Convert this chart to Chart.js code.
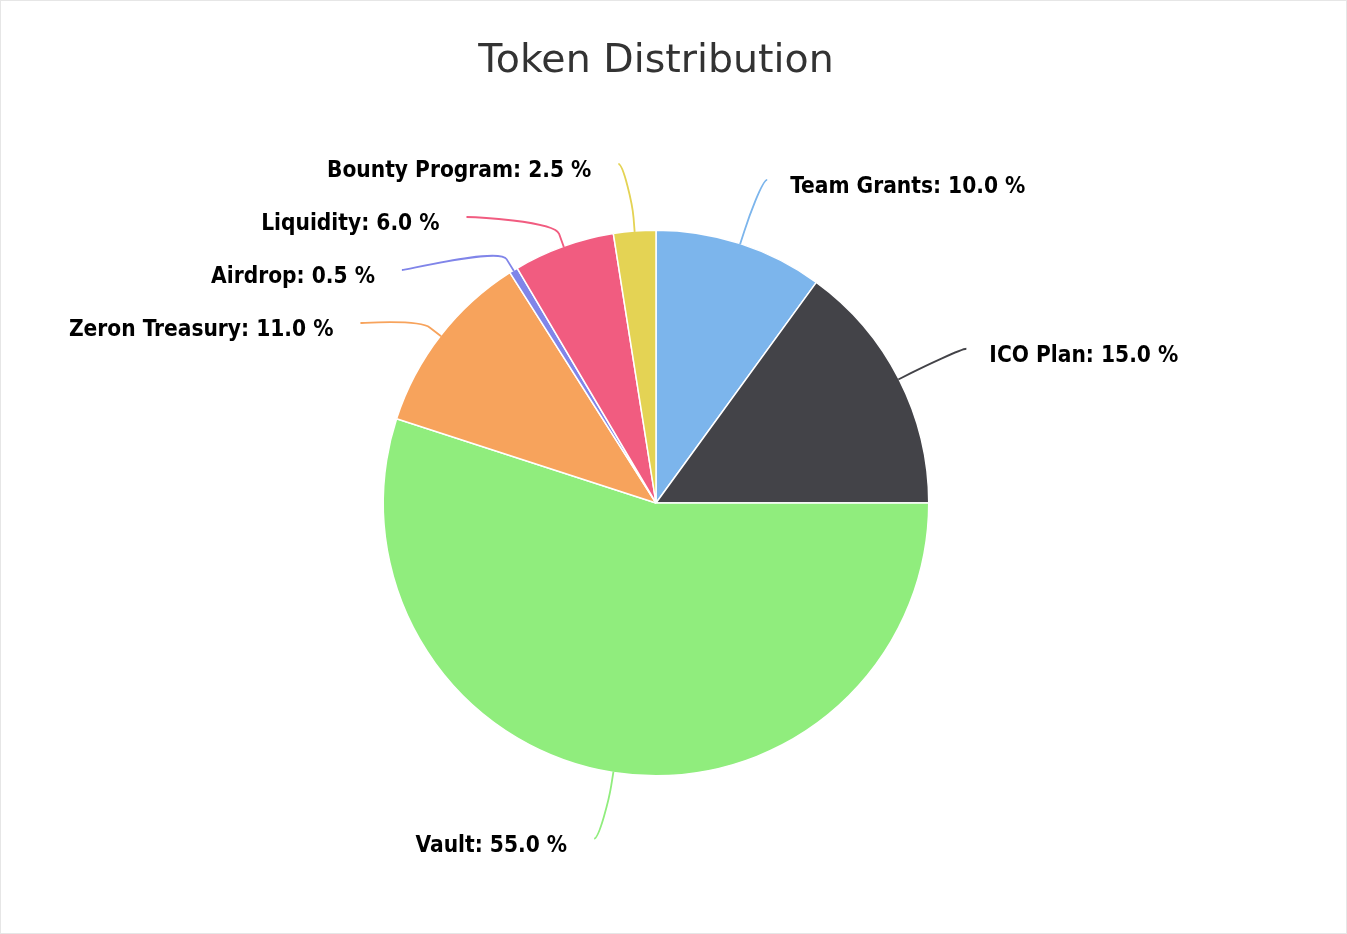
<!DOCTYPE html>
<html>
<head>
<meta charset="utf-8">
<title>Token Distribution</title>
<script src="https://cdn.jsdelivr.net/npm/chart.js@4"></script>
<style>
    html, body { margin: 0; padding: 0; background: #ffffff; }
    .marco {
        width: 1347px;
        height: 934px;
        box-sizing: border-box;
        border: 1px solid #e6e6e6;
        position: relative;
    }
    .marco canvas { display: block; }
</style>
</head>
<body>
<div class="marco">
    <canvas id="chartTokens"></canvas>
</div>
<script>
// datos del grafico
const categorias = ['Team Grants', 'ICO Plan', 'Vault', 'Zeron Treasury', 'Airdrop', 'Liquidity', 'Bounty Program'];
const porcentajes = [10.0, 15.0, 55.0, 11.0, 0.5, 6.0, 2.5];
const colores = ['#7cb5ec', '#434348', '#90ed7d', '#f7a35c', '#8085e9', '#f15c80', '#e4d354'];

const FUENTE = '"DejaVu Sans", Verdana, sans-serif';
const FUENTE_ETIQ = '"DejaVu Sans Condensed", "DejaVu Sans", sans-serif';

// reparte las etiquetas de un lado para que no se pisen
function repartir(lista, minY, maxY, alto) {
    lista.sort((a, b) => a.y - b.y);
    let grupos = lista.map(it => ({ items: [it] }));
    let cambio = true;
    while (cambio) {
        cambio = false;
        grupos.forEach(g => {
            const n = g.items.length;
            let inicio = g.items.reduce((s, it) => s + it.y, 0) / n - (n - 1) * alto / 2;
            inicio = Math.max(minY, Math.min(maxY - (n - 1) * alto, inicio));
            g.inicio = inicio;
        });
        for (let k = 0; k < grupos.length - 1; k++) {
            const g = grupos[k], sig = grupos[k + 1];
            if (g.inicio + g.items.length * alto > sig.inicio) {
                g.items = g.items.concat(sig.items);
                grupos.splice(k + 1, 1);
                cambio = true;
                break;
            }
        }
    }
    grupos.forEach(g => g.items.forEach((it, j) => { it.ly = g.inicio + j * alto; }));
}

// etiquetas con conector curvo (estilo highcharts)
const etiquetasPie = {
    id: 'etiquetasPie',
    afterDatasetsDraw(chart) {
        const ctx = chart.ctx;
        const meta = chart.getDatasetMeta(0);
        const distY = 67, radX = 76, radY = 69, alto = 53;
        const items = meta.data.map((arco, i) => {
            const p = arco.getProps(['x', 'y', 'startAngle', 'endAngle', 'outerRadius'], true);
            const a = (p.startAngle + p.endAngle) / 2;
            return {
                i, a, cx: p.x, cy: p.y, r: p.outerRadius - 0.75,
                izq: Math.cos(a) < 0,
                y: p.y + (p.outerRadius + distY) * Math.sin(a)
            };
        });
        if (!items.length) return;
        const { cx, cy, r } = items[0];
        const izq = items.filter(it => it.izq);
        const der = items.filter(it => !it.izq);
        repartir(izq, cy - (r + distY), cy + (r + distY), alto);
        repartir(der, cy - (r + distY), cy + (r + distY), alto);

        ctx.save();
        items.forEach(it => {
            const dy = it.ly - cy;
            const q = Math.max(0, 1 - Math.pow(dy / (r + radY), 2));
            const dx = (r + radX) * Math.sqrt(q);
            const lx = it.izq ? cx - dx : cx + dx;
            const ly = it.ly;
            // punto en el borde y punto de quiebre
            const tx = cx + Math.cos(it.a) * r, ty = cy + Math.sin(it.a) * r;
            const off = Math.min(r, 14);
            const bx = cx + Math.cos(it.a) * (r + off), by = cy + Math.sin(it.a) * (r + off);

            ctx.beginPath();
            ctx.moveTo(lx, ly);
            ctx.bezierCurveTo(lx + (it.izq ? 5 : -5), ly, 2 * bx - tx, 2 * by - ty, bx, by);
            ctx.lineTo(tx, ty);
            ctx.strokeStyle = colores[it.i];
            ctx.lineWidth = 1.8;
            ctx.stroke();

            const texto = categorias[it.i] + ': ' + porcentajes[it.i].toFixed(1) + ' %';
            ctx.font = 'bold 22.5px ' + FUENTE_ETIQ;
            ctx.fillStyle = '#000000';
            ctx.textBaseline = 'middle';
            ctx.textAlign = it.izq ? 'right' : 'left';
            ctx.fillText(texto, it.izq ? lx - 27 : lx + 23, ly + 7.5);
        });
        ctx.restore();
    }
};

const ctx = document.getElementById('chartTokens').getContext('2d');
new Chart(ctx, {
    type: 'pie',
    data: {
        labels: categorias,
        datasets: [{
            data: porcentajes,
            backgroundColor: colores,
            borderColor: '#ffffff',
            borderWidth: 1.5,
            hoverOffset: 0,
            offset: 0
        }]
    },
    options: {
        responsive: true,
        maintainAspectRatio: false,
        animation: false,
        layout: {
            padding: { left: 0, right: 35, top: 0, bottom: 156.5 }
        },
        plugins: {
            legend: { display: false },
            tooltip: { enabled: false },
            title: {
                display: true,
                text: 'Token Distribution',
                color: '#333333',
                font: { family: FUENTE, size: 39.5, weight: 'normal' },
                padding: { top: 37, bottom: 144.1 }
            }
        }
    },
    plugins: [etiquetasPie]
});
</script>
</body>
</html>
